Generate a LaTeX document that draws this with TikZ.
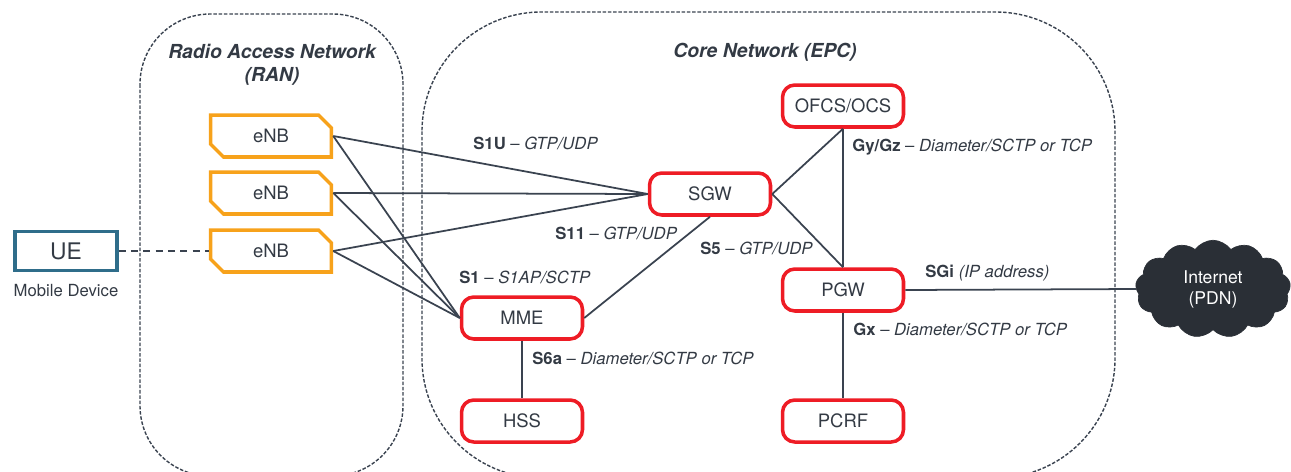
\documentclass[tikz,border=0pt]{standalone}
\usepackage{fontspec}
\setmainfont{TeX Gyre Heros}
\usetikzlibrary{shapes.misc,shapes.symbols}

\definecolor{ink}{HTML}{333A44}
\definecolor{wire}{HTML}{3A4350}
\definecolor{epcred}{HTML}{EE1C25}
\definecolor{enborange}{HTML}{F7A21B}
\definecolor{ueblue}{HTML}{2F6D8A}
\definecolor{cloudfill}{HTML}{2A2F36}

\begin{document}
\begin{tikzpicture}[x=0.02cm, y=-0.02cm,
    every node/.style={text=ink},
    area/.style={draw=wire, line width=0.8pt, dash pattern=on 2pt off 1pt},
    zone/.style={font=\fontsize{11}{13}\selectfont\bfseries\itshape, align=center},
    enb/.style={draw=enborange, line width=2pt, chamfered rectangle,
      chamfered rectangle corners={north east, south west}, chamfered rectangle xsep=5pt,
      minimum width=2.42cm, minimum height=0.84cm, inner sep=0pt,
      font=\fontsize{10.5}{12}\selectfont},
    epc/.style={draw=epcred, line width=2pt, rounded corners=7pt,
      minimum width=2.42cm, minimum height=0.84cm, inner sep=0pt,
      font=\fontsize{10.5}{12}\selectfont},
    link/.style={draw=wire, line width=1pt},
    proto/.style={anchor=west, inner sep=0pt, font=\fontsize{9.5}{11}\selectfont}]
  \useasboundingbox (0,0) rectangle (1291,471);

  % network areas
  \draw[area, rounded corners=40] (140,14) rectangle (403,476);
  \draw[area, rounded corners=68] (422,12) rectangle (1115,478);
  \node[zone] (ran) at (272,65) {Radio Access Network\\(RAN)};
  \node[zone] (core) at (765,52) {Core Network (EPC)};

  % user equipment
  \node[draw=ueblue, line width=2pt, minimum width=2.04cm, minimum height=0.78cm,
    inner sep=0pt, font=\fontsize{13}{15}\selectfont] (ue) at (66,251) {UE};
  \node[font=\fontsize{9.5}{11}\selectfont] (mobile) at (66,291) {Mobile Device};

  % radio access
  \node[enb] (enb1) at (271,136) {eNB};
  \node[enb] (enb2) at (271,193) {eNB};
  \node[enb] (enb3) at (271,251) {eNB};

  % core elements
  \node[epc] (sgw) at (710,194) {SGW};
  \node[epc] (mme) at (522,318) {MME};
  \node[epc] (hss) at (522,421) {HSS};
  \node[epc] (ocs) at (843,106) {OFCS/OCS};
  \node[epc] (pgw) at (843,290) {PGW};
  \node[epc] (pcrf) at (843,421) {PCRF};
  \node[cloud, cloud puffs=13, cloud puff arc=110, aspect=1.7, fill=cloudfill,
    draw=cloudfill, minimum width=3.1cm, minimum height=1.95cm, inner sep=0pt,
    align=center, text=white, font=\fontsize{10}{12}\selectfont] (pdn) at (1213,289)
    {Internet\\(PDN)};

  % connectors
  \draw[wire, line width=1pt, dash pattern=on 4pt off 3pt] (ue.east) -- (enb3.west);
  \foreach \n in {enb1,enb2,enb3}{
    \draw[link] (\n.east) -- (sgw.west);
    \draw[link] (\n.east) -- (mme.west);
  }
  \draw[link] (mme.east) -- (sgw.south);
  \draw[link] (sgw.east) -- (ocs.south);
  \draw[link] (sgw.east) -- (pgw.north);
  \draw[link] (ocs.south) -- (pgw.north);
  \draw[link] (pgw.east) -- (pdn.west);
  \draw[link] (pgw.south) -- (pcrf.north);
  \draw[link] (mme.south) -- (hss.north);

  % interface labels
  \node[proto] (s1u) at (473,143) {\textbf{S1U} -- \textit{GTP/UDP}};
  \node[proto] (s11) at (555,233) {\textbf{S11} -- \textit{GTP/UDP}};
  \node[proto] (s1) at (459,277) {\textbf{S1} -- \textit{S1AP/SCTP}};
  \node[proto] (s5) at (700,248) {\textbf{S5} -- \textit{GTP/UDP}};
  \node[proto] (gy) at (852,147) {\textbf{Gy/Gz} -- \textit{Diameter/SCTP or TCP}};
  \node[proto] (sgi) at (925,273) {\textbf{SGi} \textit{(IP address)}};
  \node[proto] (gx) at (853,329) {\textbf{Gx} -- \textit{Diameter/SCTP or TCP}};
  \node[proto] (s6a) at (532,358) {\textbf{S6a} -- \textit{Diameter/SCTP or TCP}};
\end{tikzpicture}
\end{document}
